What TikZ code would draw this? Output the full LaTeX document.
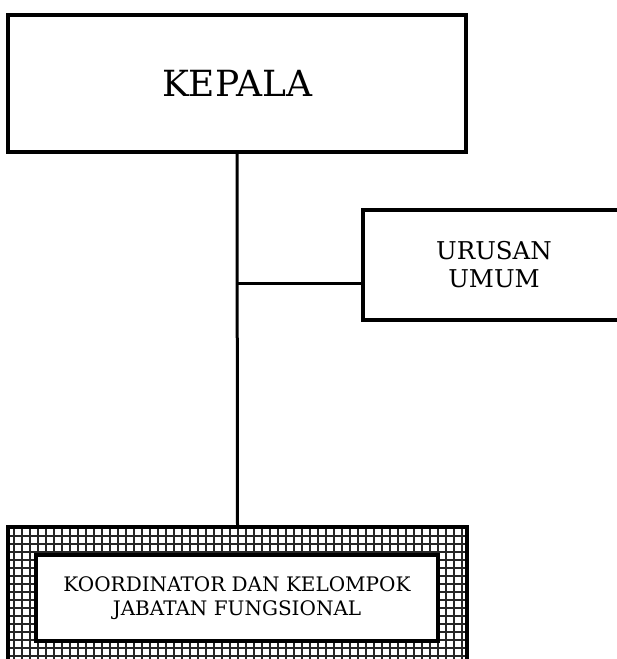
\documentclass[tikz,border=0pt]{standalone}
\usepackage{fontspec}
\setmainfont{DejaVu Serif}
\usepackage{tikz}
\usetikzlibrary{positioning}

\tikzset{
  kotak/.style={draw,line width=3.2pt,fill=white,align=center,inner sep=0pt},
  garis/.style={line width=3pt},
  kisi/.style={line width=2pt,black!85},
}

\begin{document}
\begin{tikzpicture}[x=1pt,y=-1pt]
\useasboundingbox (0,0) rectangle (617,659);
\clip (0,0) rectangle (617,659);
% kotak-kotak
\node[kotak,minimum width=458pt,minimum height=137pt,font=\fontsize{36}{42}\selectfont]
  (kepala) at (237,83.5) {KEPALA};
\node[kotak,minimum width=262pt,minimum height=110pt,font=\fontsize{24.5}{28}\selectfont]
  (urusan) at (494,265) {URUSAN\\UMUM};
\node[draw,line width=3.2pt,minimum width=459pt,minimum height=145pt,inner sep=0pt,
  path picture={\draw[kisi,step=8pt] (path picture bounding box.south west)
    grid (path picture bounding box.north east);}]
  (bingkai) at (237.5,599.5) {};
\node[kotak,minimum width=402pt,minimum height=86pt,font=\fontsize{20}{24}\selectfont]
  (fungsional) at (237,598) {KOORDINATOR DAN KELOMPOK\\JABATAN FUNGSIONAL};
% garis
\coordinate (cabang) at (kepala.south |- 0,283);
\draw[garis] (kepala.south) -- (bingkai.north);
\draw[garis] (cabang) -- (cabang -| urusan.west);
\end{tikzpicture}
\end{document}
